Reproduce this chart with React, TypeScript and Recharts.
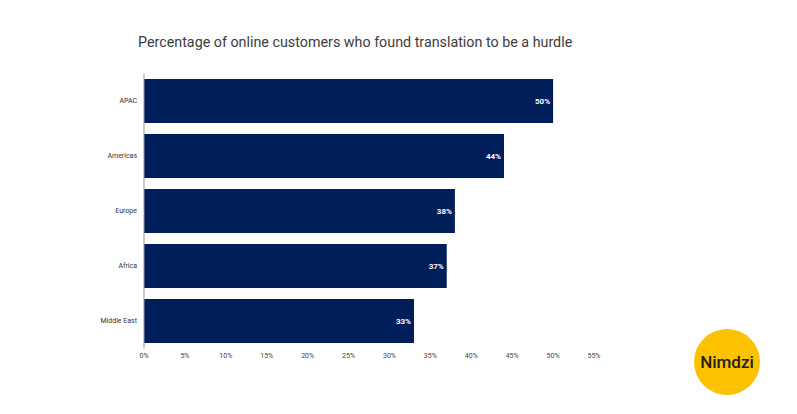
import { BarChart, Bar, XAxis, YAxis, LabelList } from 'recharts';

const regions = ['APAC', 'Americas', 'Europe', 'Africa', 'Middle East'];
const shares = [50, 44, 38, 37, 33];
const xTicks = [0, 5, 10, 15, 20, 25, 30, 35, 40, 45, 50, 55];

const data = regions.map((region, i) => ({ region, value: shares[i] }));

export default function App() {
  return (
    <div style={{ position: 'absolute', left: 0, top: 0, width: 797, height: 414, background: '#fff', fontFamily: 'Roboto, sans-serif' }}>
      <div
        style={{
          position: 'absolute',
          left: 138,
          top: 34,
          fontSize: 14.3,
          color: '#3d3d3d',
          whiteSpace: 'nowrap',
        }}
      >
        Percentage of online customers who found translation to be a hurdle
      </div>
      <div style={{ position: 'absolute', left: 0, top: 0 }}>
        <BarChart
          width={797}
          height={414}
          data={data}
          layout="vertical"
          margin={{ top: 73.5, right: 203, bottom: 45.5, left: 0 }}
          barCategoryGap={5.5}
        >
          <XAxis
            type="number"
            domain={[0, 55]}
            ticks={xTicks}
            interval={0}
            tickFormatter={(v) => `${v}%`}
            axisLine={false}
            tickLine={false}
            tickSize={3}
            height={20}
            tick={{ fontSize: 7, fill: '#444', fontFamily: 'Roboto, sans-serif' }}
          />
          <YAxis
            type="category"
            dataKey="region"
            width={144}
            axisLine={{ stroke: '#999', strokeWidth: 1 }}
            tickLine={false}
            tickSize={5}
            tick={{ fontSize: 7, fill: '#333', fontFamily: 'Roboto, sans-serif' }}
          />
          <Bar dataKey="value" fill="#001e5a" isAnimationActive={false}>
            <LabelList
              dataKey="value"
              position="insideRight"
              offset={3}
              formatter={(v: any) => `${v}%`}
              style={{ fill: '#fff', fontSize: 8, fontWeight: 'bold', fontFamily: 'Roboto, sans-serif' }}
            />
          </Bar>
        </BarChart>
      </div>
      <div
        style={{
          position: 'absolute',
          left: 694,
          top: 329,
          width: 66,
          height: 66,
          borderRadius: '50%',
          background: '#fcc100',
          display: 'flex',
          alignItems: 'center',
          justifyContent: 'center',
          fontFamily: 'Roboto, sans-serif',
          fontSize: 17,
          fontWeight: 500,
          color: '#22221a',
        }}
      >
        Nimdzi
      </div>
    </div>
  );
}
